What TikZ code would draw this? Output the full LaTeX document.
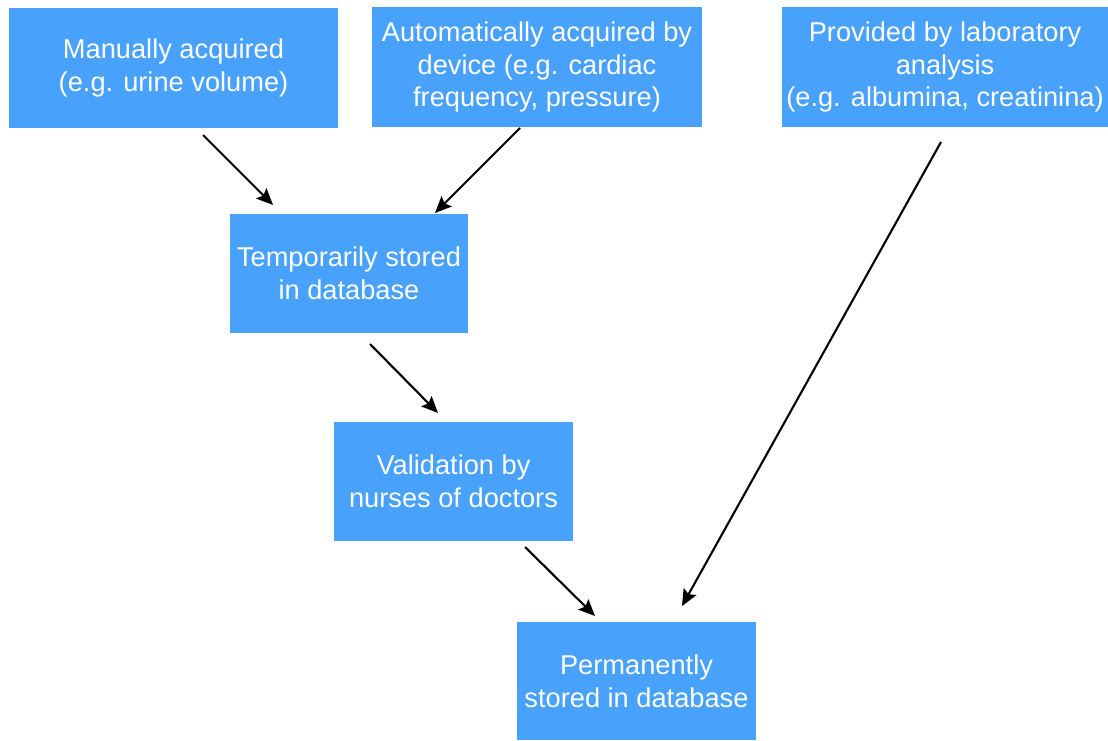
\documentclass[tikz,border=0pt]{standalone}
\usepackage{fontspec}
\setmainfont{Liberation Sans}
\usetikzlibrary{arrows.meta}
\definecolor{boxblue}{RGB}{72,161,250}
\tikzset{
  box/.style   = { fill=boxblue, text=white, align=center, inner sep=0pt,
                   font=\fontsize{15.5}{18.6}\selectfont },
  wide/.style  = { box, minimum width=6.6cm, minimum height=2.4cm },
  small/.style = { box, minimum width=4.78cm, minimum height=2.38cm },
  flow/.style  = { line width=1.2pt, black, -{Stealth[length=3.3mm,width=2.9mm,inset=0.6mm]} },
}

\begin{document}
\begin{tikzpicture}[x=0.02cm,y=-0.02cm]
    \useasboundingbox (0,0) rectangle (1108,740);

    % Sources
    \node[wide] (manual) at (173.5,68) {Manually acquired\\(e.g. urine volume)};
    \node[wide] (device) at (537,67) {Automatically acquired by\\device (e.g. cardiac\\frequency, pressure)};
    \node[wide, minimum width=6.52cm] (lab) at (945,67) {Provided by laboratory\\analysis\\(e.g. albumina, creatinina)};

    % Storage and validation
    \node[small] (temp) at (349,273.5) {Temporarily stored\\in database};
    \node[small] (valid) at (453.5,481.5) {Validation by\\nurses of doctors};
    \node[small] (perm) at (636.5,681) {Permanently\\stored in database};

    % arrow ends
    \coordinate (manual_out) at (203,135);
    \coordinate (temp_in1)   at (273,205);
    \coordinate (device_out) at (520,128);
    \coordinate (temp_in2)   at (435,213);
    \coordinate (temp_out)   at (370,344);
    \coordinate (valid_in)   at (438,413);
    \coordinate (valid_out)  at (525,547);
    \coordinate (perm_in1)   at (595,616);
    \coordinate (lab_out)    at (941,142);
    \coordinate (perm_in2)   at (682,606);

    % Arrows
    \draw[flow] (manual_out) -- (temp_in1);
    \draw[flow] (device_out) -- (temp_in2);
    \draw[flow] (temp_out) -- (valid_in);
    \draw[flow] (valid_out) -- (perm_in1);
    \draw[flow] (lab_out) -- (perm_in2);

\end{tikzpicture}
\end{document}
